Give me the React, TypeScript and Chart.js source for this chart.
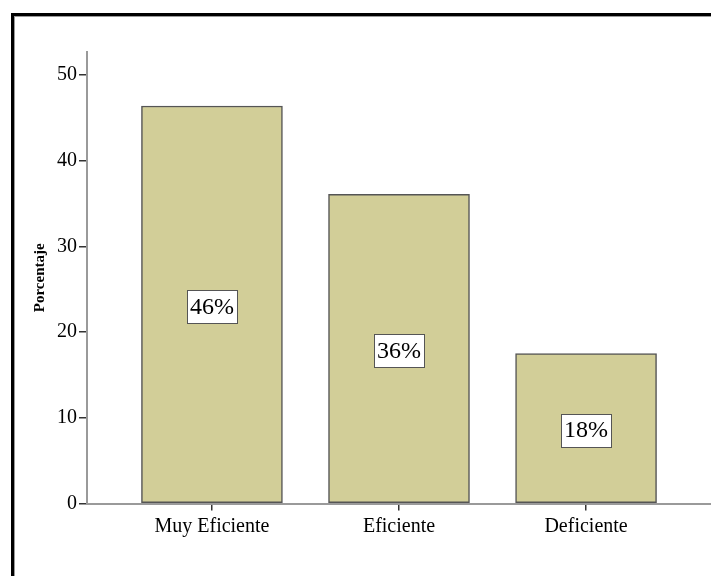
import React, { useEffect, useRef } from 'react';
import { Chart, registerables } from 'chart.js';

Chart.register(...registerables);

const categories = ['Muy Eficiente', 'Eficiente', 'Deficiente'];
const positions = [1, 2, 3];
const percentages = [46.4, 36.1, 17.5];
const barLabels = ['46%', '36%', '18%'];
const yTitle = 'Porcentaje';

const SERIF = "'Liberation Serif', 'Times New Roman', Times, serif";

const framePlugin = {
  id: 'frame',
  beforeDraw(chart: any) {
    const ctx = chart.ctx;
    ctx.save();
    ctx.strokeStyle = '#000';
    ctx.lineWidth = 3;
    ctx.strokeRect(12.5, 14.5, 1000, 1000);
    ctx.strokeStyle = '#9a9a9a';
    ctx.lineWidth = 1;
    ctx.strokeRect(14.5, 16.5, 1000, 1000);
    ctx.restore();
  },
};

const labelPlugin = {
  id: 'barLabels',
  afterDatasetsDraw(chart: any) {
    const ctx = chart.ctx;
    const meta = chart.getDatasetMeta(0);
    ctx.save();
    ctx.font = `24px ${SERIF}`;
    ctx.textAlign = 'center';
    ctx.textBaseline = 'middle';
    meta.data.forEach((bar: any, i: number) => {
      const { x, y, base } = bar.getProps(['x', 'y', 'base'], true);
      const cy = (y + base) / 2 + 2;
      const text = barLabels[i];
      const w = Math.round(ctx.measureText(text).width + 6);
      const h = 33;
      const left = Math.round(x - w / 2) + 0.5;
      const top = Math.round(cy - h / 2) + 0.5;
      ctx.fillStyle = '#fff';
      ctx.fillRect(left, top, w, h);
      ctx.strokeStyle = '#555';
      ctx.lineWidth = 1;
      ctx.strokeRect(left, top, w, h);
      ctx.fillStyle = '#000';
      ctx.fillText(text, x, cy + 1);
    });
    ctx.restore();
  },
};

export default function App() {
  const ref = useRef<HTMLCanvasElement | null>(null);

  useEffect(() => {
    if (!ref.current) return;
    const chart = new Chart(ref.current, {
      type: 'bar',
      data: {
        datasets: [
          {
            data: positions.map((p, i) => ({ x: p, y: percentages[i] })),
            backgroundColor: '#d2ce98',
            borderColor: '#555555',
            borderWidth: 1.5,
            borderSkipped: false,
            barThickness: 141,
          } as any,
        ],
      },
      options: {
        animation: false,
        responsive: false,
        maintainAspectRatio: false,
        devicePixelRatio: 1,
        layout: { padding: { top: 52, left: 0, right: 0, bottom: 0 } },
        plugins: {
          legend: { display: false },
          tooltip: { enabled: false },
        },
        scales: {
          x: {
            type: 'linear',
            offset: false,
            min: 0.332,
            max: 3.668,
            afterBuildTicks: (s: any) => {
              s.ticks = positions.map((v) => ({ value: v }));
            },
            afterFit: (s: any) => {
              s.height = 72.5;
            },
            ticks: {
              callback: (v: any) => {
                const idx = positions.indexOf(Number(v));
                return idx >= 0 ? categories[idx] : '';
              },
              font: { family: SERIF, size: 20 },
              color: '#000',
              padding: 4,
              maxRotation: 0,
              autoSkip: false,
            },
            grid: {
              offset: false,
              drawOnChartArea: false,
              drawTicks: true,
              tickLength: 7,
              color: '#333',
              lineWidth: 1.5,
            },
            border: { color: '#9a9a9a', width: 2 },
          },
          y: {
            min: 0,
            max: 52.7,
            afterFit: (s: any) => {
              s.width = 87;
            },
            ticks: {
              stepSize: 10,
              includeBounds: false,
              font: { family: SERIF, size: 20 },
              color: '#000',
              padding: 2,
            },
            grid: {
              drawOnChartArea: false,
              drawTicks: true,
              tickLength: 8,
              color: '#333',
              lineWidth: 1.5,
            },
            border: { color: '#9a9a9a', width: 2 },
            title: {
              display: true,
              text: yTitle,
              font: { family: SERIF, size: 15, weight: 'bold' },
              color: '#000',
              padding: { top: 31, bottom: 0 },
            },
          },
        },
      } as any,
      plugins: [framePlugin, labelPlugin],
    });
    return () => chart.destroy();
  }, []);

  return (
    <div style={{ position: 'fixed', left: 0, top: 0, width: 711, height: 576, background: '#fff' }}>
      <canvas ref={ref} width={711} height={576} style={{ display: 'block', width: 711, height: 576 }} />
    </div>
  );
}
